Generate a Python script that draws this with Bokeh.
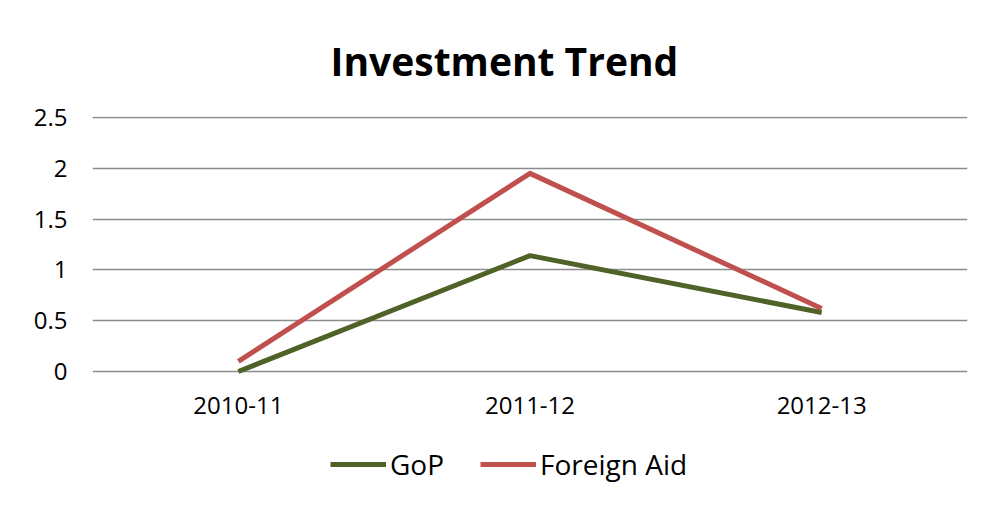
from bokeh.plotting import figure
from bokeh.models import Range1d, FactorRange, FixedTicker, NumeralTickFormatter, Legend, LegendItem
from bokeh.embed import file_html
from bokeh.resources import INLINE

years = ["2010-11", "2011-12", "2012-13"]
gop = [0.0, 1.14, 0.58]
foreign_aid = [0.10, 1.95, 0.62]
y_ticks = [0, 0.5, 1, 1.5, 2, 2.5]

FONT = "Open Sans"

p = figure(width=986, height=499, x_range=FactorRange(*years), y_range=Range1d(-1.221, 2.51),
           output_backend="svg", toolbar_location=None,
           min_border_left=92, min_border_right=19, min_border_top=116, min_border_bottom=4)

p.title.text = "Investment Trend"
p.title.align = "left"
p.title.offset = 238
p.title.text_font = FONT
p.title.text_font_size = "39px"
p.title.text_font_style = "bold"
p.title.text_color = "#000000"
p.title.standoff = 59

p.background_fill_color = "white"
p.border_fill_color = "white"
p.outline_line_color = None

p.xgrid.grid_line_color = None
p.ygrid.grid_line_color = "#8C8C8C"
p.ygrid.grid_line_width = 1.5
p.ygrid.ticker = FixedTicker(ticks=y_ticks)

p.yaxis.ticker = FixedTicker(ticks=y_ticks)
p.yaxis.formatter = NumeralTickFormatter(format="0.[0]")
for ax in (p.xaxis, p.yaxis):
    ax.axis_line_color = None
    ax.major_tick_line_color = None
    ax.minor_tick_line_color = None
    ax.major_label_text_font = FONT
    ax.major_label_text_font_size = "24px"
    ax.major_label_text_color = "#000000"
p.yaxis.major_label_standoff = 19
p.xaxis.major_label_standoff = 20
p.xaxis.fixed_location = 0

r1 = p.line(years, gop, line_color="#4F6228", line_width=5, line_join="round")
r2 = p.line(years, foreign_aid, line_color="#C0504D", line_width=5, line_join="round")

legend = Legend(items=[LegendItem(label="GoP", renderers=[r1]),
                       LegendItem(label="Foreign Aid", renderers=[r2])],
                orientation="horizontal", location=(238, 12),
                label_text_font=FONT, label_text_font_size="28px", label_text_color="#000000",
                glyph_width=56, glyph_height=30, label_standoff=4, spacing=36,
                padding=5, border_line_color=None, background_fill_alpha=0)
p.add_layout(legend, "center")

open("out.html", "w").write(file_html(p, INLINE))
